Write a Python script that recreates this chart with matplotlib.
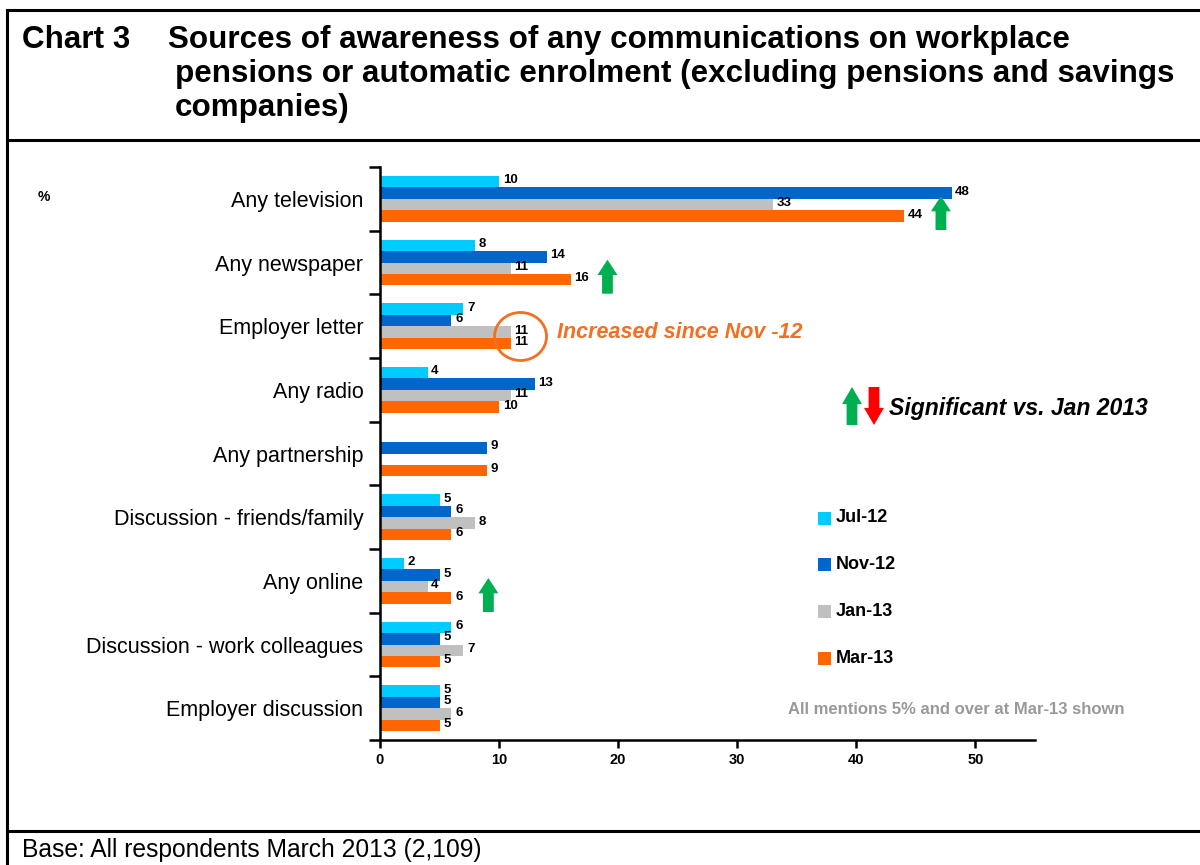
import numpy as np
import matplotlib
matplotlib.use('Agg')
import matplotlib.pyplot as plt
from matplotlib.lines import Line2D
from matplotlib.patches import Polygon, Ellipse, Rectangle
from matplotlib.transforms import IdentityTransform

plt.rcParams['font.family'] = ['Liberation Sans', 'DejaVu Sans']

# survey waves and the share (%) naming each source
categories = ['Any television', 'Any newspaper', 'Employer letter', 'Any radio',
              'Any partnership', 'Discussion - friends/family', 'Any online',
              'Discussion - work colleagues', 'Employer discussion']
waves = ['Jul-12', 'Nov-12', 'Jan-13', 'Mar-13']
jul_12 = [10, 8, 7, 4, None, 5, 2, 6, 5]
nov_12 = [48, 14, 6, 13, 9, 6, 5, 5, 5]
jan_13 = [33, 11, 11, 11, None, 8, 4, 7, 6]
mar_13 = [44, 16, 11, 10, 9, 6, 6, 5, 5]
significant_up = ['Any television', 'Any newspaper', 'Any online']
increased_since_nov = 'Employer letter'

colors = ['#00CCFF', '#0066CC', '#C0C0C0', '#FF6600']
W, H = 1200, 865


def fx(px):
    return px / W


def fy(py):
    return 1 - py / H


fig = plt.figure(figsize=(12, 8.65), dpi=100)

# frame lines around the title block and chart
for (x0, y0, x1, y1) in [(7, 10, 1200, 10), (7, 140, 1200, 140),
                         (7, 831, 1200, 831), (7, 10, 7, 865)]:
    fig.add_artist(Line2D([fx(x0), fx(x1)], [fy(y0), fy(y1)], color='black', lw=2.2))

title_kw = dict(fontsize=22.6, fontweight='bold', va='center')
fig.text(fx(22), fy(40), 'Chart 3', **title_kw)
fig.text(fx(168), fy(40), 'Sources of awareness of any communications on workplace', **title_kw)
fig.text(fx(175), fy(74), 'pensions or automatic enrolment (excluding pensions and savings', **title_kw)
fig.text(fx(175), fy(108), 'companies)', **title_kw)
fig.text(fx(22), fy(850), 'Base: All respondents March 2013 (2,109)', fontsize=17.7, va='center')

ax = fig.add_axes([fx(380), fy(740), fx(1035 - 380), (740 - 167) / H])

series = [jul_12, nov_12, jan_13, mar_13]
bh = 0.18
y = np.arange(len(categories))
for k, (vals, col) in enumerate(zip(series, colors)):
    off = (k - 1.5) * bh
    for i, v in enumerate(vals):
        if v is None:
            continue
        ax.barh(y[i] + off, v, height=bh, color=col, edgecolor='none')
        ax.text(v + 0.3, y[i] + off - 0.02, str(v), fontsize=9.5, fontweight='bold',
                va='center', ha='left')

ax.set_xlim(0, 55)
ax.set_ylim(len(categories) - 0.5, -0.5)
ax.set_xticks(range(0, 60, 10))
ax.tick_params(axis='x', direction='out', length=6, width=1.8, labelsize=10.5, pad=3)
for lab in ax.get_xticklabels():
    lab.set_fontweight('bold')
ax.set_yticks(np.arange(len(categories) + 1) - 0.5)
ax.set_yticklabels([])
ax.tick_params(axis='y', which='major', direction='out', length=8, width=1.8)
ax.set_yticks(y, minor=True)
ax.set_yticklabels(categories, minor=True, fontsize=15.5)
ax.tick_params(axis='y', which='minor', length=0, pad=12)
for side in ['top', 'right']:
    ax.spines[side].set_visible(False)
for side in ['left', 'bottom']:
    ax.spines[side].set_linewidth(1.8)

fig.text(fx(38), fy(197), '%', fontsize=10, fontweight='bold', va='center')


def block_arrow(cx, cy, color, up=True, w=20, h=34):
    hw, sw, hl = w / 2, w * 0.27, h * 0.45
    s = 1 if up else -1
    pts = [(0, h / 2), (hw, h / 2 - hl), (sw, h / 2 - hl), (sw, -h / 2),
           (-sw, -h / 2), (-sw, h / 2 - hl), (-hw, h / 2 - hl)]
    verts = [(cx + px, cy + s * py) for px, py in pts]
    fig.add_artist(Polygon(verts, closed=True, facecolor=color, edgecolor='none',
                           transform=IdentityTransform()))


# green arrows beside the Mar-13 bars that rose significantly
for name in significant_up:
    i = categories.index(name)
    px, py = ax.transData.transform((mar_13[i] + 3.1, y[i] + 1.5 * bh))
    block_arrow(px, py + 3, '#00B050')

# circle round the Jan/Mar letter values
i = categories.index(increased_since_nov)
px, py = ax.transData.transform((mar_13[i] + 0.8, y[i] + 0.9 * bh))
fig.add_artist(Ellipse((px, py), 52, 48, fill=False, edgecolor='#F36F21', lw=2,
                       transform=IdentityTransform()))
fig.text(fx(557), fy(333), 'Increased since Nov -12', fontsize=15.5, fontweight='bold',
         style='italic', color='#F36F21', va='center')

# significance key
block_arrow(852, H - 406, '#00B050', up=True, w=20, h=38)
block_arrow(874, H - 406, '#FF0000', up=False, w=20, h=38)
fig.text(fx(889), fy(408), 'Significant vs. Jan 2013', fontsize=16.6, fontweight='bold',
         style='italic', va='center')

# legend
for k, (name, col) in enumerate(zip(waves, colors)):
    yy = 518 + k * 46.7
    fig.add_artist(Rectangle((fx(818), fy(yy + 6.5)), fx(13), 13 / H,
                             facecolor=col, edgecolor='none'))
    fig.text(fx(836), fy(yy), name, fontsize=13, fontweight='bold', va='center')

fig.text(fx(1125), fy(710), 'All mentions 5% and over at Mar-13 shown', fontsize=12,
         fontweight='bold', color='#999999', ha='right', va='center')

fig.savefig('out.png', dpi=100)
